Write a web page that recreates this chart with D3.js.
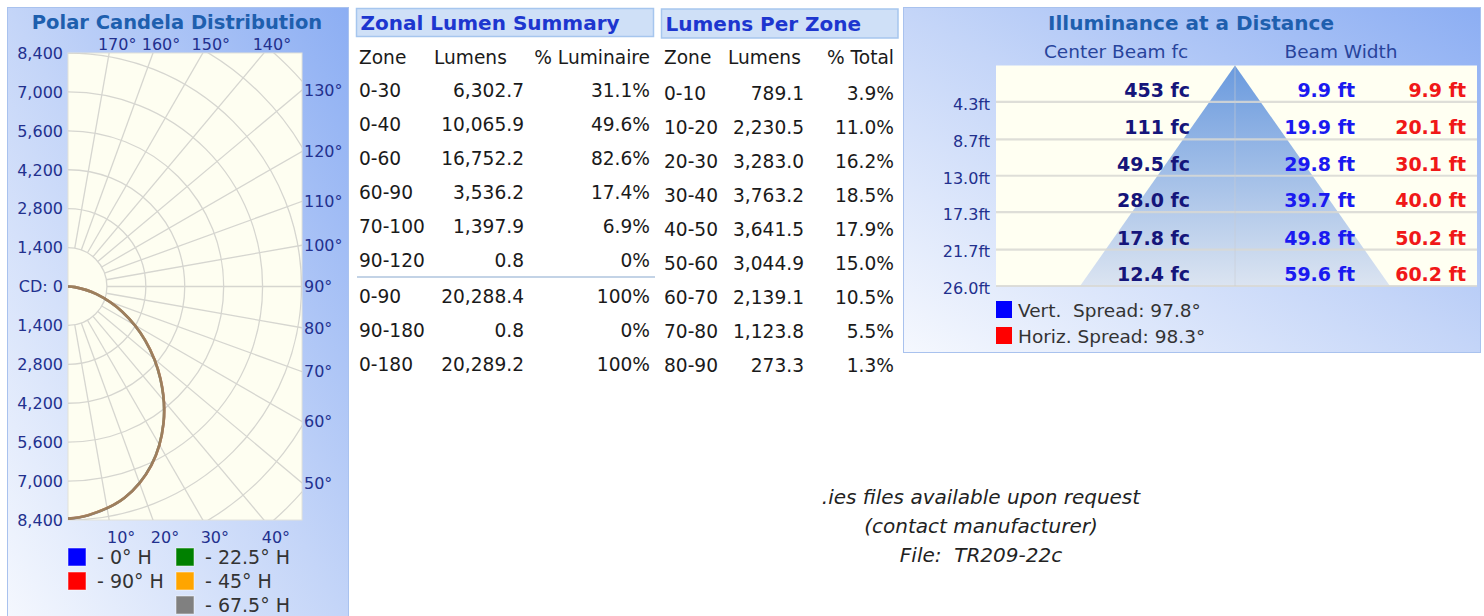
<!DOCTYPE html>
<html><head><meta charset="utf-8">
<script src="https://cdn.jsdelivr.net/npm/d3@7"></script>
<style>
body{margin:0;background:#fff}
svg{display:block}
text{font-family:"DejaVu Sans",sans-serif}
</style>
</head><body>
<svg id="c" width="1484" height="616"></svg>
<script>
// ---------------- DATA ----------------
const polarAngles = [0, 5, 15, 25, 35, 45, 55, 65, 75, 85, 90];
const cd0H    = [8350, 8270, 7870, 7090, 5990, 4700, 3390, 2150, 1060, 250, 0];
const cd22H   = [8350, 8265, 7868, 7093, 5990, 4702, 3394, 2155, 1062, 250, 0];
const cd45H   = [8350, 8262, 7868, 7095, 5992, 4705, 3396, 2157, 1063, 252, 0];
const cd67H   = [8350, 8263, 7868, 7094, 5991, 4704, 3395, 2156, 1063, 251, 0];
const cd90H   = [8350, 8260, 7866, 7098, 5996, 4710, 3400, 2160, 1066, 253, 0];
const seriesLabels = ["0° H", "90° H", "22.5° H", "45° H", "67.5° H"];
const seriesColors = ["#0000ff", "#ff0000", "#008000", "#ffa500", "#808080"];
const radialTicks = [1400, 2800, 4200, 5600, 7000, 8400];
const radialGrid = [1400, 2800, 4200, 5600, 7000, 8400, 9800, 11200];
const angleTicks = [10, 20, 30, 40, 50, 60, 70, 80, 90, 100, 110, 120, 130, 140, 150, 160, 170];

const zonalZones  = ["0-30", "0-40", "0-60", "60-90", "70-100", "90-120", "0-90", "90-180", "0-180"];
const zonalLumens = [6302.7, 10065.9, 16752.2, 3536.2, 1397.9, 0.8, 20288.4, 0.8, 20289.2];
const zonalPct    = [31.1, 49.6, 82.6, 17.4, 6.9, 0, 100, 0, 100];

const zoneZones  = ["0-10", "10-20", "20-30", "30-40", "40-50", "50-60", "60-70", "70-80", "80-90"];
const zoneLumens = [789.1, 2230.5, 3283.0, 3763.2, 3641.5, 3044.9, 2139.1, 1123.8, 273.3];
const zonePct    = [3.9, 11.0, 16.2, 18.5, 17.9, 15.0, 10.5, 5.5, 1.3];

const distances  = [4.3, 8.7, 13.0, 17.3, 21.7, 26.0];
const centerFc   = [453, 111, 49.5, 28.0, 17.8, 12.4];
const vertWidth  = [9.9, 19.9, 29.8, 39.7, 49.8, 59.6];
const horizWidth = [9.9, 20.1, 30.1, 40.0, 50.2, 60.2];
const vertSpread = 97.8;
const horizSpread = 98.3;

const noteLines = [".ies files available upon request", "(contact manufacturer)", "File:  TR209-22c"];

// ---------------- SETUP ----------------
const svg = d3.select("#c");
const defs = svg.append("defs");
function panelGrad(id) {
  const g = defs.append("linearGradient").attr("id", id)
    .attr("x1", 0).attr("y1", 1).attr("x2", 1).attr("y2", 0);
  g.append("stop").attr("offset", 0).attr("stop-color", "#f5f8fe");
  g.append("stop").attr("offset", 0.5).attr("stop-color", "#c4d5f8");
  g.append("stop").attr("offset", 1).attr("stop-color", "#8caef3");
}
panelGrad("pg1");
panelGrad("pg2");
const triGrad = defs.append("linearGradient").attr("id", "tri").attr("x1", 0).attr("y1", 0).attr("x2", 0).attr("y2", 1);
triGrad.append("stop").attr("offset", 0).attr("stop-color", "#6a9ade");
triGrad.append("stop").attr("offset", 1).attr("stop-color", "#dbe4f1");

const navy = "#22308e";
const titleBlue = "#1e5fae";
const tblBlue = "#1d36cf";

// ---------------- POLAR PANEL ----------------
svg.append("rect").attr("x", 7.5).attr("y", 7.5).attr("width", 341).attr("height", 620)
  .attr("fill", "url(#pg1)").attr("stroke", "#a9c2ee");
svg.append("text").attr("x", 177).attr("y", 29).attr("text-anchor", "middle")
  .attr("font-size", 19.5).attr("font-weight", "bold").attr("fill", titleBlue)
  .text("Polar Candela Distribution");

const px0 = 68, py0 = 53, pw = 234, ph = 467;
const cx = 68, cy = 286.5;
const r = d3.scaleLinear().domain([0, 8400]).range([0, 233.5]);

svg.append("rect").attr("x", px0).attr("y", py0).attr("width", pw).attr("height", ph)
  .attr("fill", "#fefef1").attr("stroke", "#e2e2da");
defs.append("clipPath").attr("id", "pclip").append("rect")
  .attr("x", px0).attr("y", py0).attr("width", pw).attr("height", ph);

const grid = svg.append("g").attr("clip-path", "url(#pclip)")
  .append("g").attr("transform", `translate(${cx},${cy})`);
grid.selectAll("circle").data(radialGrid).join("circle")
  .attr("r", d => r(d)).attr("fill", "none").attr("stroke", "#d6d6d0").attr("stroke-width", 1.3);
const toXY = (a, rad) => [Math.sin(a * Math.PI / 180) * rad, Math.cos(a * Math.PI / 180) * rad];
grid.selectAll("line").data(angleTicks).join("line")
  .attr("x1", d => toXY(d, r(1400))[0]).attr("y1", d => toXY(d, r(1400))[1])
  .attr("x2", d => toXY(d, 500)[0]).attr("y2", d => toXY(d, 500)[1])
  .attr("stroke", "#d6d6d0").attr("stroke-width", 1.3);

// series curves
const seriesData = [cd0H, cd90H, cd22H, cd45H, cd67H];
const drawOrder = [0, 2, 1, 3, 4];
const seriesOpacity = [0.3, 0.35, 0.45, 0.4, 0.55];
const radial = d3.lineRadial()
  .angle(d => Math.PI - d.a * Math.PI / 180)
  .radius(d => r(d.v))
  .curve(d3.curveCatmullRom.alpha(0.5));
const curves = svg.append("g").attr("clip-path", "url(#pclip)")
  .append("g").attr("transform", `translate(${cx},${cy})`);
drawOrder.forEach(i => {
  curves.append("path")
    .datum(polarAngles.map((a, j) => ({a, v: seriesData[i][j]})))
    .attr("d", radial).attr("fill", "none")
    .attr("stroke", seriesColors[i]).attr("stroke-opacity", seriesOpacity[i]).attr("stroke-width", 2.6);
});

// left radial labels
const leftLab = svg.append("g").attr("font-size", 16).attr("fill", navy).attr("text-anchor", "end");
const fmtC = d3.format(",");
radialTicks.forEach(t => {
  leftLab.append("text").attr("x", 63).attr("y", cy - r(t)).attr("dy", "0.36em").text(fmtC(t));
  leftLab.append("text").attr("x", 63).attr("y", cy + r(t)).attr("dy", "0.36em").text(fmtC(t));
});
leftLab.append("text").attr("x", 63).attr("y", cy).attr("dy", "0.36em").text("CD: 0");

// angle labels
const angLab = svg.append("g").attr("font-size", 16).attr("fill", navy);
angleTicks.forEach(a => {
  const rad = a * Math.PI / 180;
  if (a < 50) {
    const x = cx + (py0 + ph - cy) * Math.tan(rad);
    angLab.append("text").attr("x", x + 12).attr("y", 537).attr("dy", "0.36em")
      .attr("text-anchor", "middle").text(a + "°");
  } else if (a <= 130) {
    const y = cy + pw * Math.cos(rad) / Math.sin(rad);
    angLab.append("text").attr("x", 304).attr("y", y).attr("dy", "0.36em").text(a + "°");
  } else {
    const x = cx + (cy - py0) * Math.tan(Math.PI - rad);
    angLab.append("text").attr("x", x + 8).attr("y", 44).attr("dy", "0.36em")
      .attr("text-anchor", "middle").text(a + "°");
  }
});

// legend
const legPos = [[68, 548], [68, 572], [176, 548], [176, 572], [176, 596]];
const leg = svg.append("g");
seriesLabels.forEach((s, i) => {
  const [x, y] = legPos[i];
  leg.append("rect").attr("x", x).attr("y", y).attr("width", 18).attr("height", 18)
    .attr("fill", seriesColors[i]).attr("stroke", "#ffffff").attr("stroke-opacity", 0.5);
  leg.append("text").attr("x", x + 29).attr("y", y + 9).attr("dy", "0.36em")
    .attr("font-size", 19).attr("fill", "#333").text("- " + s);
});

// ---------------- TABLES ----------------
function headerBox(x, y, w, h, title) {
  svg.append("rect").attr("x", x).attr("y", y).attr("width", w).attr("height", h)
    .attr("fill", "#cfe0f7").attr("stroke", "#a6c6ee").attr("stroke-width", 1.5);
  svg.append("text").attr("x", x + 4).attr("y", y + h / 2).attr("dy", "0.36em")
    .attr("font-size", 20).attr("font-weight", "bold").attr("fill", tblBlue).text(title);
}
const fmtL = d3.format(",.1f");
const txt = "#1a1a1a";
const tfs = 18.6;

// Zonal lumen summary
headerBox(356.5, 8.5, 297, 28, "Zonal Lumen Summary");
const zt = svg.append("g").attr("font-size", tfs).attr("fill", txt);
zt.append("text").attr("x", 359).attr("y", 57).attr("dy", "0.36em").text("Zone");
zt.append("text").attr("x", 434).attr("y", 57).attr("dy", "0.36em").text("Lumens");
zt.append("text").attr("x", 650).attr("y", 57).attr("dy", "0.36em").attr("text-anchor", "end").text("% Luminaire");
const zRowY = i => 90 + i * 34 + (i >= 6 ? 2 : 0);
zonalZones.forEach((z, i) => {
  const y = zRowY(i);
  zt.append("text").attr("x", 359).attr("y", y).attr("dy", "0.36em").text(z);
  zt.append("text").attr("x", 524).attr("y", y).attr("dy", "0.36em").attr("text-anchor", "end").text(fmtL(zonalLumens[i]));
  const p = zonalPct[i];
  zt.append("text").attr("x", 650).attr("y", y).attr("dy", "0.36em").attr("text-anchor", "end")
    .text((Number.isInteger(p) ? p : p.toFixed(1)) + "%");
});
svg.append("line").attr("x1", 357).attr("x2", 655).attr("y1", 277).attr("y2", 277)
  .attr("stroke", "#c3d3e6").attr("stroke-width", 2);

// Lumens per zone
headerBox(661.5, 9, 236.5, 29, "Lumens Per Zone");
const pz = svg.append("g").attr("font-size", tfs).attr("fill", txt);
pz.append("text").attr("x", 664).attr("y", 57).attr("dy", "0.36em").text("Zone");
pz.append("text").attr("x", 728).attr("y", 57).attr("dy", "0.36em").text("Lumens");
pz.append("text").attr("x", 894).attr("y", 57).attr("dy", "0.36em").attr("text-anchor", "end").text("% Total");
zoneZones.forEach((z, i) => {
  const y = 93.5 + i * 34;
  pz.append("text").attr("x", 664).attr("y", y).attr("dy", "0.36em").text(z);
  pz.append("text").attr("x", 804).attr("y", y).attr("dy", "0.36em").attr("text-anchor", "end").text(fmtL(zoneLumens[i]));
  pz.append("text").attr("x", 894).attr("y", y).attr("dy", "0.36em").attr("text-anchor", "end").text(zonePct[i].toFixed(1) + "%");
});

// ---------------- ILLUMINANCE PANEL ----------------
svg.append("rect").attr("x", 903.5).attr("y", 7.5).attr("width", 577).attr("height", 345)
  .attr("fill", "url(#pg2)").attr("stroke", "#a9c2ee");
svg.append("text").attr("x", 1191).attr("y", 23).attr("dy", "0.36em").attr("text-anchor", "middle")
  .attr("font-size", 20).attr("font-weight", "bold").attr("fill", titleBlue).text("Illuminance at a Distance");
svg.append("text").attr("x", 1116).attr("y", 51).attr("dy", "0.36em").attr("text-anchor", "middle")
  .attr("font-size", 18.5).attr("fill", "#28449c").text("Center Beam fc");
svg.append("text").attr("x", 1341).attr("y", 51).attr("dy", "0.36em").attr("text-anchor", "middle")
  .attr("font-size", 18.5).attr("fill", "#28449c").text("Beam Width");

const tx0 = 996, tx1 = 1477;
const yD = d3.scaleLinear().domain([0, 26.0]).range([65.5, 286]);
const xB = d3.scaleLinear().domain([-30, 30]).range([1235 - 156, 1235 + 156]);
svg.append("rect").attr("x", tx0).attr("y", yD(0)).attr("width", tx1 - tx0).attr("height", yD(26) - yD(0))
  .attr("fill", "#fffff2");
// triangle from beam width at the farthest distance
const last = distances.length - 1;
svg.append("path")
  .attr("d", `M${xB(0)},${yD(0)} L${xB(vertWidth[last] / 2)},${yD(distances[last])} L${xB(-vertWidth[last] / 2)},${yD(distances[last])} Z`)
  .attr("fill", "url(#tri)");
// row lines
svg.append("g").selectAll("line").data(distances).join("line")
  .attr("x1", tx0).attr("x2", tx1).attr("y1", d => yD(d)).attr("y2", d => yD(d))
  .attr("stroke", "#d8d8d4").attr("stroke-opacity", 0.85).attr("stroke-width", 2.2);
svg.append("line").attr("x1", xB(0)).attr("x2", xB(0)).attr("y1", yD(0)).attr("y2", yD(26))
  .attr("stroke", "#c8ccd4").attr("stroke-opacity", 0.6);

const fmtD = d3.format(".1f");
const il = svg.append("g");
distances.forEach((d, i) => {
  il.append("text").attr("x", 990).attr("y", yD(d) + 2).attr("dy", "0.36em").attr("text-anchor", "end")
    .attr("font-size", 16).attr("fill", navy).text(fmtD(d) + "ft");
  const by = yD(d) - 5;
  il.append("text").attr("x", 1190).attr("y", by).attr("text-anchor", "end")
    .attr("font-size", 19).attr("font-weight", "bold").attr("fill", "#15157a")
    .text((centerFc[i] >= 100 ? d3.format("d")(centerFc[i]) : fmtD(centerFc[i])) + " fc");
  il.append("text").attr("x", 1355).attr("y", by).attr("text-anchor", "end")
    .attr("font-size", 19).attr("font-weight", "bold").attr("fill", "#1a1af0")
    .text(fmtD(vertWidth[i]) + " ft");
  il.append("text").attr("x", 1466).attr("y", by).attr("text-anchor", "end")
    .attr("font-size", 19).attr("font-weight", "bold").attr("fill", "#f01818")
    .text(fmtD(horizWidth[i]) + " ft");
});
// spread legend
const spr = [["Vert.  Spread: ", vertSpread, "#0000ff", 301], ["Horiz. Spread: ", horizSpread, "#ff0000", 327]];
spr.forEach(([lab, v, col, y]) => {
  svg.append("rect").attr("x", 996).attr("y", y).attr("width", 16).attr("height", 17).attr("fill", col);
  svg.append("text").attr("x", 1018).attr("y", y + 9).attr("dy", "0.36em")
    .attr("font-size", 18.5).attr("fill", "#333").style("white-space", "pre")
    .text(lab + v.toFixed(1) + "°");
});

// ---------------- NOTE ----------------
noteLines.forEach((t, i) => {
  svg.append("text").attr("x", 981).attr("y", 497 + i * 29).attr("dy", "0.36em")
    .attr("text-anchor", "middle").attr("font-family", "Lato, 'Open Sans', sans-serif")
    .attr("font-style", "italic").attr("font-size", 20).attr("fill", "#222")
    .style("white-space", "pre").text(t);
});
</script>
</body></html>
